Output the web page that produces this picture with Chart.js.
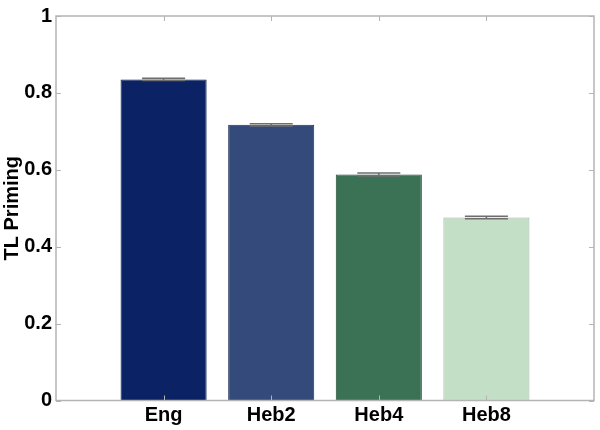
<!DOCTYPE html>
<html>
<head>
<meta charset="utf-8">
<script src="https://cdn.jsdelivr.net/npm/chart.js@4/dist/chart.umd.min.js"></script>
<style>
html,body{margin:0;padding:0;background:#fff;}
#wrap{width:600px;height:430px;}
</style>
</head>
<body>
<div id="wrap"><canvas id="c" width="600" height="430"></canvas></div>
<script>
const categories = ['Eng', 'Heb2', 'Heb4', 'Heb8'];
const values = [0.835, 0.717, 0.588, 0.476];
const errors = [0.003, 0.003, 0.004, 0.003];
const yTicks = [0, 0.2, 0.4, 0.6, 0.8, 1];
const barColors = ['#0b2364', '#344a7a', '#3b7256', '#c3dfc6'];
const barBorders = ['#081a4a', '#1f3258', '#1f4a33', '#9fb5a3'];

const FONT = 'Liberation Sans, Arial, Helvetica, sans-serif';
const axisColor = '#b4b4b4';

const boxPlugin = {
  id: 'boxAndErr',
  afterDatasetsDraw(chart) {
    const ctx = chart.ctx;
    const xs = chart.scales.x, ys = chart.scales.y;
    const meta = chart.getDatasetMeta(0);
    ctx.save();
    ctx.strokeStyle = '#6e6e6e';
    ctx.lineWidth = 1.5;
    meta.data.forEach((bar, i) => {
      const cx = bar.x;
      const half = bar.width * 0.25;
      const yTop = ys.getPixelForValue(values[i] + errors[i]);
      const yBot = ys.getPixelForValue(values[i] - errors[i]);
      ctx.beginPath();
      ctx.moveTo(cx, yTop); ctx.lineTo(cx, yBot);
      ctx.moveTo(cx - half, yTop); ctx.lineTo(cx + half, yTop);
      ctx.moveTo(cx - half, yBot); ctx.lineTo(cx + half, yBot);
      ctx.stroke();
    });
    ctx.restore();
    const a = chart.chartArea;
    ctx.save();
    ctx.strokeStyle = axisColor;
    ctx.lineWidth = 1.5;
    ctx.strokeRect(a.left, a.top, a.right - a.left, a.bottom - a.top);
    ctx.lineWidth = 1;
    ctx.beginPath();
    const tl = 5;
    yTicks.forEach(v => {
      const y = Math.round(ys.getPixelForValue(v)) + 0.5;
      ctx.moveTo(a.left, y); ctx.lineTo(a.left + tl, y);
      ctx.moveTo(a.right, y); ctx.lineTo(a.right - tl, y);
    });
    categories.forEach((c, i) => {
      const x = Math.round(xs.getPixelForValue(i + 1)) + 0.5;
      ctx.moveTo(x, a.bottom); ctx.lineTo(x, a.bottom - tl);
      ctx.moveTo(x, a.top); ctx.lineTo(x, a.top + tl);
    });
    ctx.stroke();
    ctx.restore();
  }
};

new Chart(document.getElementById('c'), {
  type: 'bar',
  data: {
    datasets: [{
      data: values.map((v, i) => ({ x: i + 1, y: v })),
      backgroundColor: barColors,
      borderColor: barBorders,
      borderWidth: 1,
      barPercentage: 0.8,
      categoryPercentage: 1.0
    }]
  },
  options: {
    responsive: false,
    animation: false,
    devicePixelRatio: 1,
    layout: { padding: { top: 7, right: 6, left: 0, bottom: 0 } },
    plugins: { legend: { display: false }, tooltip: { enabled: false } },
    scales: {
      x: {
        type: 'linear',
        offset: false,
        min: 0, max: 5,
        grid: { display: false, drawTicks: false, offset: false },
        border: { display: false },
        afterBuildTicks: s => { s.ticks = categories.map((c, i) => ({ value: i + 1 })); },
        afterFit: s => { s.height = 29.5; },
        ticks: {
          padding: 3,
          autoSkip: false,
          maxRotation: 0,
          color: '#000',
          font: { family: FONT, size: 20, weight: 'bold' },
          callback: v => categories[v - 1] || ''
        }
      },
      y: {
        min: 0, max: 1,
        grid: { display: false, drawTicks: false },
        border: { display: false },
        afterBuildTicks: s => { s.ticks = yTicks.map(v => ({ value: v })); },
        afterFit: s => { s.width = 56; },
        ticks: {
          padding: 4,
          color: '#000',
          font: { family: FONT, size: 20, weight: 'bold' },
          callback: v => String(v)
        },
        title: {
          display: true,
          text: 'TL Priming',
          color: '#000',
          font: { family: FONT, size: 20, weight: 'bold' },
          padding: { top: 0, bottom: 0 }
        }
      }
    }
  },
  plugins: [boxPlugin]
});
</script>
</body>
</html>
